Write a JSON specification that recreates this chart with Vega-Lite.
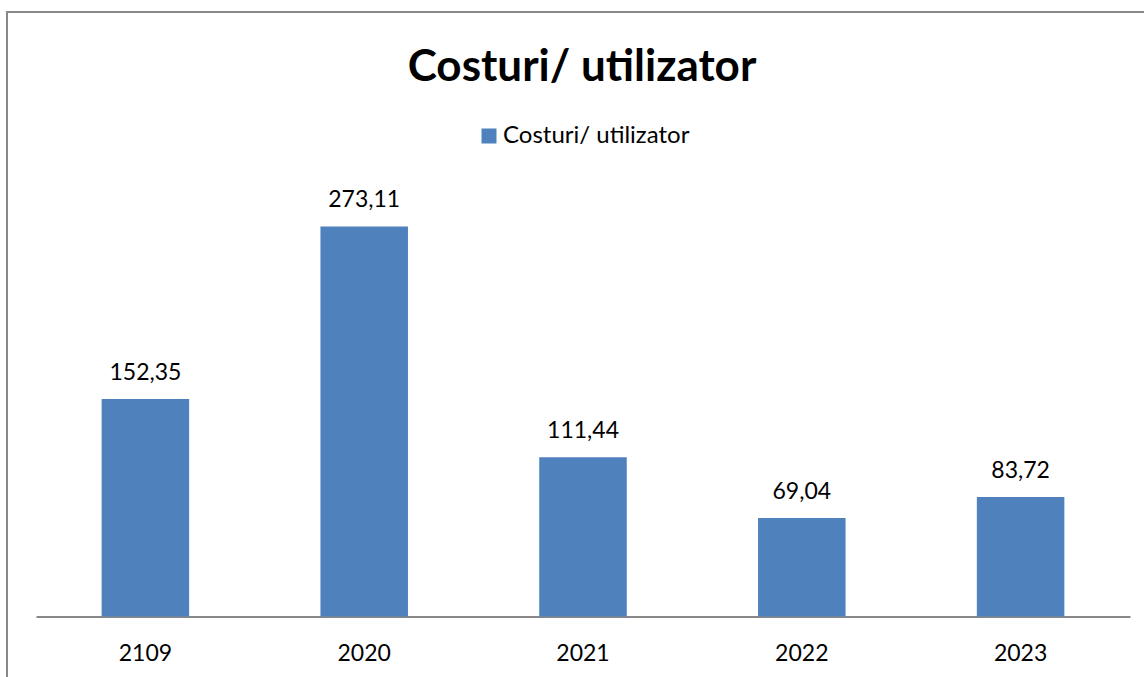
{
  "$schema": "https://vega.github.io/schema/vega-lite/v6.json",
  "autosize": "none",
  "width": 1150,
  "height": 680,
  "padding": {"left": 7, "top": 12, "right": 0, "bottom": 0},
  "background": "white",
  "config": {
    "view": {"stroke": "#888888", "strokeWidth": 2},
    "font": "Lato",
    "locale": {"number": {"decimal": ",", "thousands": ".", "grouping": [3], "currency": ["", ""]}}
  },
  "title": {
    "text": "Costuri/ utilizator",
    "font": "Lato",
    "fontSize": 44,
    "fontWeight": "bold",
    "color": "#000000",
    "anchor": "middle",
    "frame": "group",
    "baseline": "alphabetic",
    "offset": -113
  },
  "data": {
    "values": [
      {"an": "2109", "cost": 152.35, "serie": "Costuri/ utilizator"},
      {"an": "2020", "cost": 273.11, "serie": "Costuri/ utilizator"},
      {"an": "2021", "cost": 111.44, "serie": "Costuri/ utilizator"},
      {"an": "2022", "cost": 69.04, "serie": "Costuri/ utilizator"},
      {"an": "2023", "cost": 83.72, "serie": "Costuri/ utilizator"}
    ]
  },
  "encoding": {
    "x": {
      "field": "an",
      "type": "nominal",
      "sort": null,
      "scale": {"range": [29, 1123], "paddingInner": 0.6, "paddingOuter": 0.3},
      "axis": {
        "title": null,
        "orient": "bottom",
        "offset": -75.5,
        "labelAngle": 0,
        "ticks": false,
        "domainColor": "#888888",
        "domainWidth": 2,
        "labelFont": "Lato",
        "labelFontSize": 23,
        "labelColor": "#000000",
        "labelBaseline": "alphabetic",
        "labelPadding": 44
      }
    },
    "y": {
      "field": "cost",
      "type": "quantitative",
      "scale": {"domain": [0, 300], "range": [604.5, 176], "nice": false, "zero": true},
      "axis": null
    }
  },
  "layer": [
    {
      "mark": {"type": "bar"},
      "encoding": {
        "color": {
          "field": "serie",
          "type": "nominal",
          "scale": {"range": ["#4F81BD"]},
          "legend": {
            "title": null,
            "orient": "none",
            "legendX": 470,
            "legendY": 112,
            "symbolType": "square",
            "symbolSize": 225,
            "symbolStrokeWidth": 0,
            "labelFont": "Lato",
            "labelFontSize": 24,
            "labelColor": "#000000",
            "labelOffset": 2,
            "labelLimit": 500
          }
        }
      }
    },
    {
      "mark": {"type": "text", "baseline": "alphabetic", "dy": -19, "fontSize": 23, "font": "Lato", "color": "#000000"},
      "encoding": {
        "text": {"field": "cost", "type": "quantitative", "format": ".2f"}
      }
    }
  ]
}
